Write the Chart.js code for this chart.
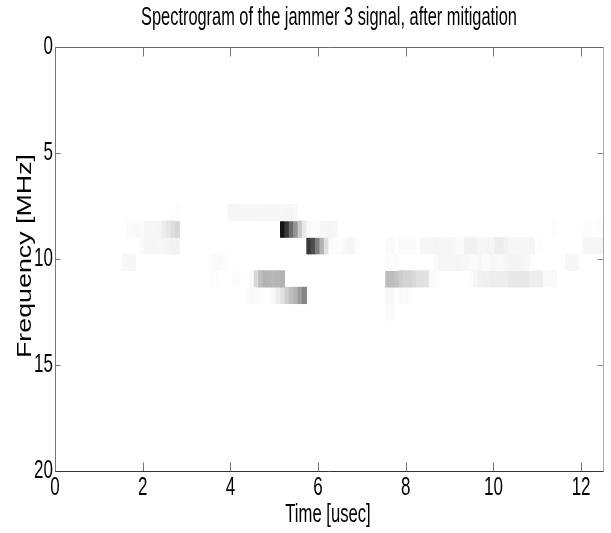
<!DOCTYPE html>
<html><head><meta charset="utf-8">
<script src="https://cdn.jsdelivr.net/npm/chart.js@4"></script>
<style>html,body{margin:0;padding:0;background:#fff}#w{width:611px;height:533px}</style>
</head><body><div id="w"><canvas id="c" width="611" height="533"></canvas></div>
<script>
const chartTitle = 'Spectrogram of the jammer 3 signal, after mitigation';
const xLabel = 'Time [usec]';
const yLabel = 'Frequency [MHz]';
const xTicks = [0,2,4,6,8,10,12];
const yTicks = [0,5,10,15,20];
const binMHz = 0.78125;
const binUsec = 0.1;

// each segment: first bin centre in usec, then darkness of consecutive bins (0 white .. 1 black)
const row7_81 = [[2.79,[.012]],[3.99,[.035,.035,.035,.035,.035,.035,.035,.03,.03,.03,.03,.03,.03,.035,.035,.025]]];
const row8_59 = [[1.69,[.02,.025,.025,.02,.035,.035,.035,.04,.07,.1,.13,.16]],
                 [5.19,[.92,.78,.58,.42,.22,.09,.025,.01]],[5.99,[.012,.03,.03,.035,.03]],
                 [11.39,[.01]],[12.09,[.012,.012,0,.012,.012]]];
const row9_38 = [[1.99,[.02,.035,.035,.035,.03,.035,.04,.05,.05]],
                 [5.79,[.78,.7,.5,.3,.12,.02,.01,.01,.02,.035,.035,.012]],
                 [7.59,[.02,.02,0,.02,.02,.02,.02,.006,.035,.035,.035,.04,.035,.035,.035,.03,.02,.02,.06,.06,.05,.03,.03,.035,.035,.07,.07,.05,.035,.03,.03,.03,.03,.04,0,.01,0,0,0,0,0,0,0,0,0,.035,.035,.035,.035,.035]]];
const row10_16 = [[1.59,[.03,.03,.03]],[3.59,[.012,.02,.02,.012]],
                  [7.59,[.012,.012,.012]],[8.69,[.02,.035,.035,.035,.035,.04,.035,.035,.02,.02,.035,.02,.02,.03,.02,.02,.035,.045,.045,.045,.035,.03,.012]],
                  [11.69,[.03,.03,.03]]];
const row10_94 = [[3.59,[.012,.012]],[4.09,[.012,.012]],[4.49,[.02,.15,.25,.3,.29,.28,.29,.3]],
                  [7.59,[.26,.26,.24,.2,.17,.17,.15,.12,.12,.11,.02,.012]],
                  [9.49,[.012,.03,.05,.06,.06,.07,.07,.07,.07,.09,.09,.09,.09,.09,.065,.065,.065,.025,.025,.025]]];
const row11_72 = [[4.39,[.01,.02,.02,.012]],[4.99,[.03,.07,.11,.19,.25,.3,.38,.48]],
                  [7.59,[.03,.03,0,.025,.015]],[8.09,[.01]]];
const row12_50 = [[7.59,[.02,.02]]];

const rowFreqs = [7.8125, 8.59375, 9.375, 10.15625, 10.9375, 11.71875, 12.5];
const rowSegments = [row7_81, row8_59, row9_38, row10_16, row10_94, row11_72, row12_50];

const datasets = rowFreqs.map((f, r) => {
  const data = [];
  rowSegments[r].forEach(([start, vals]) => vals.forEach((v, i) => {
    if (v > 0) data.push({x: +(start + i * binUsec).toFixed(2), y: [f - binMHz / 2, f + binMHz / 2], v});
  }));
  return {
    label: f + ' MHz', data,
    backgroundColor: ctx => { const g = Math.round(255 * (1 - (ctx.raw ? ctx.raw.v : 0))); return `rgb(${g},${g},${g})`; },
    borderWidth: 0, grouped: false, barPercentage: 1, categoryPercentage: 1
  };
});

const frame = {
  id: 'frame',
  afterDraw(chart) {
    const {ctx, chartArea: a, scales: {x, y}} = chart;
    ctx.save();
    const line = (x0, y0, x1, y1, col) => { ctx.strokeStyle = col; ctx.lineWidth = 1; ctx.beginPath(); ctx.moveTo(x0, y0); ctx.lineTo(x1, y1); ctx.stroke(); };
    const L = Math.round(a.left) + .5, R = Math.round(a.right) + .5, T = Math.round(a.top) + .5, B = Math.round(a.bottom) + .5;
    xTicks.forEach(t => { const p = Math.round(x.getPixelForValue(t)) + .5; line(p, B, p, B - 9, '#777'); line(p, T, p, T + 9, '#777'); });
    yTicks.forEach(t => { const p = Math.round(y.getPixelForValue(t)) + .5; line(L, p, L + 5, p, '#777'); line(R, p, R - 6, p, '#888'); });
    line(L, T, R, T, '#666'); line(R, T, R, B, '#aaa'); line(L, T, L, B, '#777'); line(L, B, R, B, '#333');

    const text = (str, px, py, sx, size, align, rot) => {
      ctx.save();
      ctx.translate(px, py);
      if (rot) ctx.rotate(-Math.PI / 2);
      ctx.scale(sx, 1);
      ctx.font = size + 'px "Liberation Sans"';
      ctx.fillStyle = '#000'; ctx.textAlign = align; ctx.textBaseline = 'middle';
      ctx.fillText(str, 0, 0);
      ctx.restore();
    };
    text(chartTitle, 329, 18, .655, 25, 'center');
    text(xLabel, 328, 515, .64, 26, 'center');
    text(yLabel, 25, 256, 1.34, 20, 'center', true);
    xTicks.forEach(t => text(String(t), x.getPixelForValue(t), 488, .68, 25, 'center'));
    yTicks.forEach(t => text(String(t), 53, y.getPixelForValue(t), .68, 25, 'right'));
    ctx.restore();
  }
};

new Chart(document.getElementById('c'), {
  type: 'bar',
  data: {datasets},
  plugins: [frame],
  options: {
    responsive: false, animation: false, devicePixelRatio: 1,
    layout: {padding: {left: 55, right: 8, top: 47, bottom: 62}},
    plugins: {legend: {display: false}, tooltip: {enabled: false}, title: {display: false}},
    scales: {
      x: {type: 'linear', min: 0, max: 12.5, offset: false, display: true,
        grid: {display: false}, border: {display: false},
        afterFit(s) { s.height = 0; },
        afterBuildTicks(s) { s.ticks = xTicks.map(value => ({value})); },
        ticks: {display: false}
      },
      y: {type: 'linear', min: 0, max: 20, reverse: true, display: true,
        grid: {display: false}, border: {display: false},
        afterFit(s) { s.width = 0; },
        afterBuildTicks(s) { s.ticks = yTicks.map(value => ({value})); },
        ticks: {display: false}
      }
    }
  }
});
</script></body></html>
